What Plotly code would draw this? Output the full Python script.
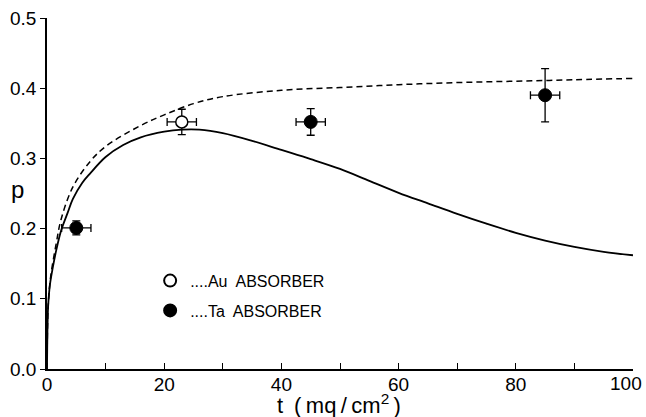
import plotly.graph_objects as go

# Solid curve (theory)
solid_x = [0, 0.1, 0.2, 0.5, 1, 1.6, 2.4, 3.5, 4.4, 6, 7.3, 10, 13, 16, 20, 23, 26, 30, 35, 40, 45, 50, 55, 60, 65, 70, 75, 80, 85, 90, 95, 100]
solid_y = [0, 0.065, 0.09, 0.12, 0.145, 0.17, 0.197, 0.222, 0.242, 0.265, 0.278, 0.302, 0.319, 0.330, 0.338, 0.341, 0.341, 0.336, 0.325, 0.312, 0.299, 0.285, 0.268, 0.251, 0.236, 0.221, 0.207, 0.194, 0.183, 0.174, 0.167, 0.162]

# Dashed curve
dash_x = [0, 0.1, 0.2, 0.6, 1.6, 2.4, 4.4, 7.3, 10, 15.8, 20, 25, 30, 40, 50, 60, 70, 80, 90, 100]
dash_y = [0, 0.065, 0.09, 0.13, 0.18, 0.213, 0.259, 0.295, 0.317, 0.346, 0.362, 0.378, 0.388, 0.397, 0.401, 0.405, 0.408, 0.410, 0.412, 0.414]

# Data points
au_x = [23]
au_y = [0.352]
au_xerr = [2.5]
au_yerr = [0.018]

ta_x = [5, 45, 85]
ta_y = [0.201, 0.352, 0.390]
ta_xerr = [2.5, 2.5, 2.5]
ta_yerr = [0.010, 0.019, 0.038]

x_tickvals = [0, 20, 40, 60, 80]
x_last_label = 100
y_tickvals = [0.0, 0.1, 0.2, 0.3, 0.4, 0.5]

FONT = "Liberation Sans, Arial, sans-serif"

fig = go.Figure()

fig.add_trace(go.Scatter(x=dash_x, y=dash_y, mode="lines", line=dict(color="black", width=1.5, dash="6px,4px", shape="spline"), showlegend=False, hoverinfo="skip"))
fig.add_trace(go.Scatter(x=solid_x, y=solid_y, mode="lines", line=dict(color="black", width=1.8, shape="spline"), showlegend=False, hoverinfo="skip"))

err_style = dict(color="black", thickness=1.3, width=4)
fig.add_trace(go.Scatter(
    x=au_x, y=au_y, mode="markers", name="....Au  ABSORBER", legendgroup="au",
    marker=dict(symbol="circle", size=12, color="white", line=dict(color="black", width=1.5)),
    error_x=dict(type="data", array=au_xerr, visible=True, **err_style),
    error_y=dict(type="data", array=au_yerr, visible=True, **err_style),
))
fig.add_trace(go.Scatter(
    x=ta_x, y=ta_y, mode="markers", name="....Ta  ABSORBER", legendgroup="ta",
    marker=dict(symbol="circle", size=13, color="black", line=dict(color="black", width=1)),
    error_x=dict(type="data", array=ta_xerr, visible=True, **err_style),
    error_y=dict(type="data", array=ta_yerr, visible=True, **err_style),
))

fig.update_layout(
    width=646, height=417,
    margin=dict(l=47, r=13, t=18, b=48, autoexpand=False),
    paper_bgcolor="white", plot_bgcolor="white",
    font=dict(family=FONT, color="black", size=18),
    legend=dict(
        x=0.176, y=0.30, xanchor="left", yanchor="top",
        bgcolor="rgba(0,0,0,0)", font=dict(size=16, family=FONT),
        tracegroupgap=6, itemsizing="constant",
    ),
    xaxis=dict(
        range=[0, 100], tickvals=x_tickvals, automargin=False, ticklabelstandoff=-3,
        ticks="inside", ticklen=6, tickwidth=1.2, tickcolor="black",
        minor=dict(dtick=10, tick0=0, ticks="inside", ticklen=6, tickwidth=1.2, tickcolor="black", showgrid=False),
        showline=True, linecolor="black", linewidth=1.5,
        showgrid=False, zeroline=False, tickfont=dict(size=19),
    ),
    yaxis=dict(
        range=[0, 0.5], tickvals=y_tickvals, tickformat=".1f", automargin=False,
        ticks="outside", ticklen=5, tickwidth=1.2, tickcolor="black",
        showline=True, linecolor="black", linewidth=1.5,
        showgrid=False, zeroline=False, tickfont=dict(size=19),
    ),
    annotations=[
        dict(text=str(x_last_label), xref="x", yref="paper", x=x_last_label, y=0, xshift=11, yshift=-14,
             xanchor="right", yanchor="middle", showarrow=False, font=dict(size=19, family=FONT)),
        dict(text="t\u2002(\u2009mq\u2009/\u2009cm<sup>2</sup>\u2009)", xref="paper", yref="paper", x=0.498, y=0, yshift=-35,
             xanchor="center", yanchor="middle", showarrow=False, font=dict(size=22, family=FONT)),
        dict(text="p", xref="paper", yref="y", x=0, y=0.255, xshift=-30,
             xanchor="center", yanchor="middle", showarrow=False, font=dict(size=24, family=FONT)),
    ],
)

fig.write_html("out.html", post_script="document.body.style.margin='0';",
               config={"displayModeBar": False})
